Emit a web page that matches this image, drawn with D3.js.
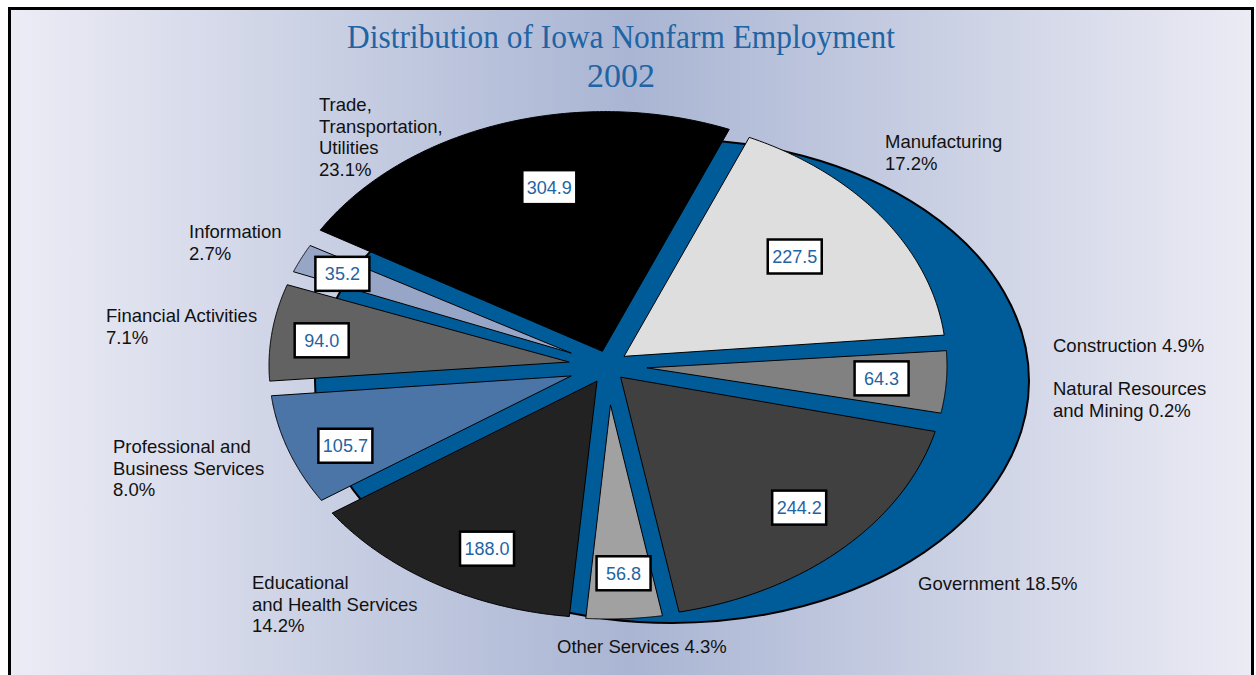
<!DOCTYPE html>
<html>
<head>
<meta charset="utf-8">
<script src="https://cdn.jsdelivr.net/npm/d3@7"></script>
<style>
  body { margin: 0; background: #fff; }
  text { font-family: "Liberation Sans", Arial, sans-serif; }
</style>
</head>
<body>
<div id="chart"></div>
<script>
// Iowa nonfarm employment 2002, thousands of jobs, clockwise from the top
var categories = ["Manufacturing", "Construction", "Natural Resources and Mining",
    "Government", "Other Services", "Educational and Health Services",
    "Professional and Business Services", "Financial Activities",
    "Information", "Trade, Transportation, Utilities"];
var jobs = [227.5, 64.3, 2.6, 244.2, 56.8, 188.0, 105.7, 94.0, 35.2, 304.9];
var shares = [17.2, 4.9, 0.2, 18.5, 4.3, 14.2, 8.0, 7.1, 2.7, 23.1];
var labelLines = [
    ["Manufacturing", "%"], ["Construction %"], ["Natural Resources", "and Mining %"],
    ["Government %"], ["Other Services %"], ["Educational", "and Health Services", "%"],
    ["Professional and", "Business Services", "%"], ["Financial Activities", "%"],
    ["Information", "%"], ["Trade,", "Transportation,", "Utilities", "%"]
];
var boxed = [true, true, false, true, true, true, true, true, true, true];

// layout (not data)
var fills = ["#dedede", "#818181", "#5a5a5a", "#404040", "#a1a1a1", "#222222",
    "#4b74a7", "#626262", "#97a6c6", "#000000"];
var explode = [5, 5, 5, 5, 5, 5, 5, 5, 5, 7];
var labelAt = [[885, 148], [1053, 352], [1053, 395], [918, 590], [557, 653],
    [252, 589], [113, 453], [106, 322], [189, 238], [319, 111]];
var boxAt = [[-3, 0.72], [-1, 0.82], [0, 0], [-2, 0.80], [-0.5, 0.825], [-4, 0.81],
    [-2, 0.845], [0, 0.865], [0.5, 0.883], [5, 0.754]];

var width = 1256, height = 675,
    cx = 608, cy = 366, rx = 334, ry = 248,
    startDeg = 23,
    gapHalf = 6.5, maxApex = 34, boxShift = 3,
    blue = "#005b99", valueBlue = "#1f64a3";

var svg = d3.select("#chart").append("svg")
    .attr("width", width)
    .attr("height", height);

var grad = svg.append("defs").append("linearGradient")
    .attr("id", "bg")
    .attr("x1", "0%").attr("x2", "100%").attr("y1", "0%").attr("y2", "0%");
grad.append("stop").attr("offset", "0%").attr("stop-color", "#ececf5");
grad.append("stop").attr("offset", "50%").attr("stop-color", "#a9b5d3");
grad.append("stop").attr("offset", "100%").attr("stop-color", "#ebebf4");

svg.append("rect")
    .attr("x", 9.5).attr("y", 8.5)
    .attr("width", 1243).attr("height", 720)
    .attr("fill", "url(#bg)")
    .attr("stroke", "#000")
    .attr("stroke-width", 3);

// title
var title = svg.append("text")
    .attr("text-anchor", "middle")
    .style("font-family", "'Liberation Serif', 'DejaVu Serif', serif")
    .style("font-size", "34px")
    .attr("fill", "#1f64a3");
title.append("tspan").attr("x", 621).attr("y", 48)
    .attr("textLength", 548).attr("lengthAdjust", "spacingAndGlyphs")
    .text("Distribution of Iowa Nonfarm Employment");
title.append("tspan").attr("x", 621).attr("y", 87).text("2002");

// blue backdrop ellipse
svg.append("ellipse")
    .attr("cx", 672).attr("cy", 381)
    .attr("rx", 357).attr("ry", 242)
    .attr("fill", blue)
    .attr("stroke", "#000")
    .attr("stroke-width", 2);

var pie = d3.pie().sort(null).startAngle(startDeg * Math.PI / 180)
    .endAngle((startDeg + 360) * Math.PI / 180);
var arcs = pie(jobs);

function ept(a, f) {
    return [f * rx * Math.sin(a), -f * ry * Math.cos(a)];
}
function unit(v) {
    var l = Math.hypot(v[0], v[1]);
    return [v[0] / l, v[1] / l];
}
function dot(a, b) { return a[0] * b[0] + a[1] * b[1]; }
function cross(a, b) { return a[0] * b[1] - a[1] * b[0]; }

// slice polygon with parallel gaps along both radii
function slicePoints(d, i) {
    var a0 = d.startAngle, a1 = d.endAngle, am = (a0 + a1) / 2;
    var d0 = unit(ept(a0, 1)), d1 = unit(ept(a1, 1));
    var n0 = [-d0[1], d0[0]], n1 = [d1[1], -d1[0]];
    function inside(a) {
        var p = ept(a, 1);
        return dot(p, n0) >= gapHalf && dot(p, n1) >= gapHalf;
    }
    if (!inside(am)) return null;
    function edge(lo, hi) { // lo outside, hi inside
        for (var k = 0; k < 40; k++) {
            var m = (lo + hi) / 2;
            if (inside(m)) hi = m; else lo = m;
        }
        return hi;
    }
    var s = edge(a0, am), e = edge(a1, am);
    var pts = [], n = 120;
    for (var k = 0; k <= n; k++) pts.push(ept(s + (e - s) * k / n, 1));
    var r = [gapHalf * (n1[0] - n0[0]), gapHalf * (n1[1] - n0[1])];
    var t = cross(r, d1) / cross(d0, d1);
    var apex = [gapHalf * n0[0] + t * d0[0], gapHalf * n0[1] + t * d0[1]];
    var al = Math.hypot(apex[0], apex[1]);
    if (al > maxApex) apex = [apex[0] / al * maxApex, apex[1] / al * maxApex];
    pts.unshift(apex);
    var u = unit(ept(am, 1));
    return pts.map(function (p) {
        return [cx + p[0] + u[0] * explode[i], cy + p[1] + u[1] * explode[i]];
    });
}

var line = d3.line();

svg.append("g").selectAll("path")
    .data(arcs.map(function (d, i) { return {i: i, pts: slicePoints(d, i)}; })
        .filter(function (d) { return d.pts; }))
    .enter()
    .append("path")
    .attr("d", function (d) { return line(d.pts) + "Z"; })
    .attr("fill", function (d) { return fills[d.i]; })
    .attr("stroke", "#000")
    .attr("stroke-width", 1);

// value boxes
var boxes = svg.append("g").selectAll("g")
    .data(arcs.filter(function (d, i) { return boxed[i]; }))
    .enter()
    .append("g")
    .attr("transform", function (d) {
        var i = d.index,
            a = (d.startAngle + d.endAngle) / 2 + boxAt[i][0] * Math.PI / 180,
            p = ept(a, boxAt[i][1]);
        return "translate(" + (cx + p[0]) + "," + (cy + boxShift + p[1]) + ")";
    });

boxes.append("rect")
    .attr("x", -27).attr("y", -17)
    .attr("width", 54).attr("height", 34)
    .attr("fill", "#fff")
    .attr("stroke", "#000")
    .attr("stroke-width", 2.5);

boxes.append("text")
    .attr("text-anchor", "middle")
    .attr("dy", 6.5)
    .style("font-size", "18px")
    .attr("fill", valueBlue)
    .text(function (d) { return d3.format(".1f")(d.data); });

// category labels
var labels = svg.append("g").selectAll("text")
    .data(categories)
    .enter()
    .append("text")
    .style("font-size", "18.5px")
    .attr("fill", "#111");

labels.each(function (c, i) {
    var el = d3.select(this);
    labelLines[i].forEach(function (ln, k) {
        el.append("tspan")
            .attr("x", labelAt[i][0])
            .attr("y", labelAt[i][1] + k * 21.5)
            .text(ln.replace("%", d3.format(".1f")(shares[i]) + "%"));
    });
});
</script>
</body>
</html>
